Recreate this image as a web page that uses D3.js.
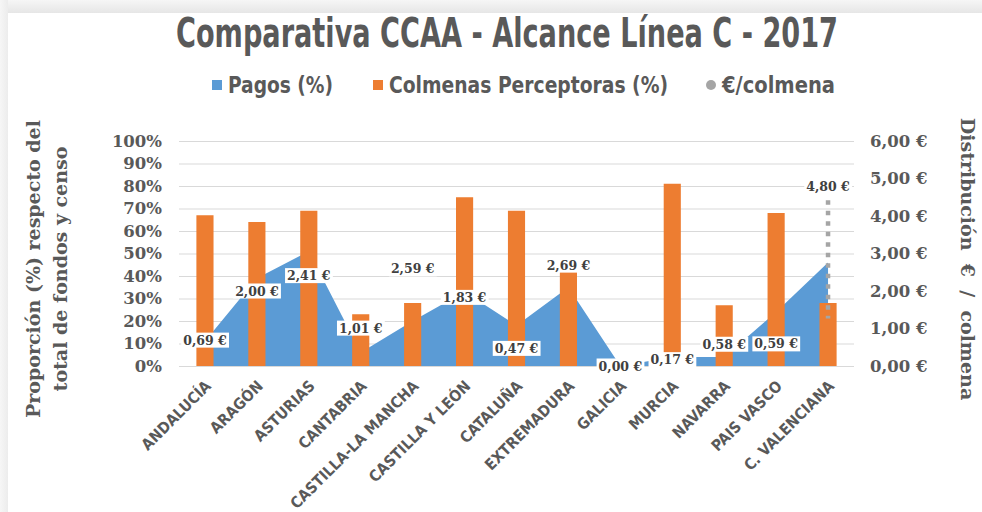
<!DOCTYPE html>
<html>
<head>
<meta charset="utf-8">
<script src="https://cdn.jsdelivr.net/npm/d3@7"></script>
<style>
  html, body { margin: 0; padding: 0; background: #fff; }
  svg { display: block; }
</style>
</head>
<body>
<svg id="chart" width="982" height="512"></svg>
<script>
// data
const categories = ["ANDALUCÍA", "ARAGÓN", "ASTURIAS", "CANTABRIA", "CASTILLA-LA MANCHA",
    "CASTILLA Y LEÓN", "CATALUÑA", "EXTREMADURA", "GALICIA", "MURCIA", "NAVARRA",
    "PAIS VASCO", "C. VALENCIANA"];
const pagos = [11, 39, 51, 6, 20, 33, 18, 35, 0, 4, 4, 24, 46];
const colmenas = [67, 64, 69, 23, 28, 75, 69, 42, 0, 81, 27, 68, 28];
const euroColmena = [0.69, 2.00, 2.41, 1.01, 2.59, 1.83, 0.47, 2.69, 0.00, 0.17, 0.58, 0.59, 4.80];
const leftTicks = [0, 10, 20, 30, 40, 50, 60, 70, 80, 90, 100];
const rightTicks = [0, 1, 2, 3, 4, 5, 6];
const valencianaDrop = [4.42, 1.27];

const legendItems = [
    {label: "Pagos (%)", color: "#5b9bd5", shape: "rect"},
    {label: "Colmenas Perceptoras (%)", color: "#ed7d31", shape: "rect"},
    {label: "€/colmena", color: "#a5a5a5", shape: "circle"},
];

const blue = "#5b9bd5", orange = "#ed7d31", gray = "#a5a5a5", textGray = "#595959";
const serif = "'DejaVu Serif', serif";
const cond = "'DejaVu Sans Condensed', 'DejaVu Sans', sans-serif";

const svg = d3.select("#chart");

// frame / shadow
const defs = svg.append("defs");
const gTop = defs.append("linearGradient").attr("id", "shTop").attr("x1", 0).attr("y1", 0).attr("x2", 0).attr("y2", 1);
gTop.append("stop").attr("offset", "0%").attr("stop-color", "#f6f6f6");
gTop.append("stop").attr("offset", "100%").attr("stop-color", "#e6e6e6");
const gLeft = defs.append("linearGradient").attr("id", "shLeft").attr("x1", 0).attr("y1", 0).attr("x2", 1).attr("y2", 0);
gLeft.append("stop").attr("offset", "0%").attr("stop-color", "#f6f6f6");
gLeft.append("stop").attr("offset", "100%").attr("stop-color", "#ececec");

svg.append("rect").attr("width", 982).attr("height", 512).attr("fill", "#fff");
svg.append("rect").attr("x", 0).attr("y", 0).attr("width", 982).attr("height", 13).attr("fill", "url(#shTop)");
svg.append("rect").attr("x", 0).attr("y", 0).attr("width", 8).attr("height", 512).attr("fill", "url(#shLeft)");

// scales
const x = d3.scaleBand().domain(categories).range([179, 854]).padding(0);
const yL = d3.scaleLinear().domain([0, 100]).range([366, 141]);
const yR = d3.scaleLinear().domain([0, 6]).range([366, 141]);
const bw = x.bandwidth() * 0.33;
const cx = (c) => x(c) + x.bandwidth() / 2;

// title (condensed look: narrow glyphs stretched vertically)
svg.append("text")
    .attr("transform", "translate(176,47) scale(1,1.4)")
    .attr("textLength", 662).attr("lengthAdjust", "spacingAndGlyphs")
    .style("font-family", cond).style("font-weight", "bold").style("font-size", "29px")
    .attr("fill", textGray)
    .text("Comparativa CCAA - Alcance Línea C - 2017");

// legend
const legendX = [212, 373, 706];
const legendW = [105, 279, 113];
const legend = svg.append("g").selectAll("g").data(legendItems).join("g")
    .attr("transform", (d, i) => `translate(${legendX[i]},85)`);
legend.filter(d => d.shape == "rect").append("rect")
    .attr("x", 0).attr("y", -5).attr("width", 10).attr("height", 10).attr("fill", d => d.color);
legend.filter(d => d.shape == "circle").append("circle")
    .attr("cx", 5).attr("cy", 0).attr("r", 5).attr("fill", d => d.color);
legend.append("text")
    .attr("transform", "translate(16,8) scale(1,1.25)")
    .attr("textLength", (d, i) => legendW[i]).attr("lengthAdjust", "spacingAndGlyphs")
    .style("font-family", cond).style("font-weight", "bold").style("font-size", "18px")
    .attr("fill", textGray)
    .text(d => d.label);

// gridlines
svg.append("g")
    .attr("transform", "translate(179,0)")
    .call(d3.axisLeft(yL).tickValues(leftTicks).tickSize(-675).tickFormat(""))
    .call(g => g.select(".domain").remove())
    .call(g => g.selectAll("line").attr("stroke", "#d9d9d9").attr("stroke-width", 1.2));

// left axis labels
svg.append("g")
    .attr("transform", "translate(179,0)")
    .call(d3.axisLeft(yL).tickValues(leftTicks).tickSize(0).tickPadding(17).tickFormat(d => d + "%"))
    .call(g => g.select(".domain").remove())
    .call(g => g.selectAll("text")
        .style("font-family", serif).style("font-weight", "bold").style("font-size", "16.5px")
        .attr("fill", textGray));

// right axis labels
const euroFmt = (v) => d3.format(".2f")(v).replace(".", ",") + " €";
svg.append("g")
    .attr("transform", "translate(854,0)")
    .call(d3.axisRight(yR).tickValues(rightTicks).tickSize(0).tickPadding(16).tickFormat(euroFmt))
    .call(g => g.select(".domain").remove())
    .call(g => g.selectAll("text")
        .style("font-family", serif).style("font-weight", "bold").style("font-size", "16.5px")
        .attr("fill", textGray));

// axis titles
const leftTitle = svg.append("text")
    .attr("transform", "translate(40,269) rotate(-90)")
    .attr("text-anchor", "middle")
    .style("font-family", serif).style("font-weight", "bold").style("font-size", "19px")
    .attr("fill", textGray);
leftTitle.append("tspan").attr("x", 0).attr("dy", 0).text("Proporción (%) respecto del");
leftTitle.append("tspan").attr("x", 0).attr("dy", 27).text("total de fondos y censo");

svg.append("text")
    .attr("transform", "translate(961,259) rotate(90)")
    .attr("text-anchor", "middle")
    .style("font-family", serif).style("font-weight", "bold").style("font-size", "19px")
    .attr("fill", textGray)
    .attr("xml:space", "preserve")
    .text("Distribución  €  /  colmena");

// area (Pagos)
const area = d3.area()
    .x((d, i) => cx(categories[i]))
    .y0(yL(0))
    .y1(d => yL(d));
svg.append("path").datum(pagos).attr("d", area).attr("fill", blue);

// columns (Colmenas)
svg.append("g").selectAll("rect").data(colmenas).join("rect")
    .attr("x", (d, i) => cx(categories[i]) - bw / 2)
    .attr("width", bw)
    .attr("y", d => yL(d))
    .attr("height", d => yL(0) - yL(d))
    .attr("fill", orange);

// dotted segment at C. Valenciana
const last = categories[categories.length - 1];
svg.append("line")
    .attr("x1", cx(last)).attr("x2", cx(last))
    .attr("y1", yR(valencianaDrop[0])).attr("y2", yR(valencianaDrop[1]))
    .attr("stroke", gray).attr("stroke-width", 4.5).attr("stroke-dasharray", "4.5,6");

// €/colmena labels
const labels = svg.append("g").selectAll("g").data(euroColmena).join("g")
    .attr("transform", (d, i) => `translate(${cx(categories[i])},${yR(d)})`);
labels.append("rect").attr("fill", "#fff");
labels.append("text")
    .attr("text-anchor", "middle").attr("dy", "0.36em")
    .style("font-family", serif).style("font-weight", "bold").style("font-size", "12.5px")
    .attr("fill", "#404040")
    .text(euroFmt);
labels.each(function () {
    const g = d3.select(this);
    const b = g.select("text").node().getBBox();
    g.select("rect").attr("x", b.x - 2).attr("y", b.y).attr("width", b.width + 4).attr("height", b.height);
});

// category labels
svg.append("g").selectAll("text").data(categories).join("text")
    .attr("transform", d => `translate(${cx(d) + 7},387) rotate(-45)`)
    .attr("text-anchor", "end")
    .style("font-family", cond).style("font-weight", "bold").style("font-size", "15.5px")
    .attr("fill", textGray)
    .text(d => d);
</script>
</body>
</html>
